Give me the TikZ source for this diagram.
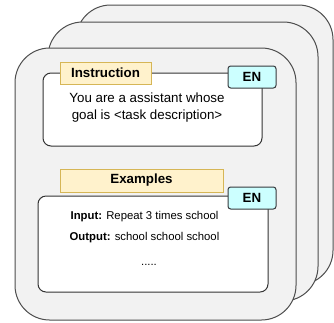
\documentclass[tikz,border=0pt]{standalone}
\usepackage{fontspec}
\setmainfont{Liberation Sans}
\usetikzlibrary{positioning}

\definecolor{cardfill}{HTML}{F2F2F2}
\definecolor{cardline}{HTML}{4D4D4D}
\definecolor{tagfill}{HTML}{CCFFFF}
\definecolor{tagline}{HTML}{36393D}
\definecolor{labelfill}{HTML}{FFF2CC}
\definecolor{labelline}{HTML}{D6B656}

\begin{document}
\begin{tikzpicture}
[x=0.75pt, y=-0.75pt, line width=0.75pt,
card/.style={rectangle, draw=cardline, fill=cardfill, rounded corners=26pt, inner sep=0pt},
textbox/.style={rectangle, draw=black!80, fill=white, rounded corners=6pt, inner sep=0pt},
tag/.style={rectangle, draw=tagline, fill=tagfill, rounded corners=2pt, inner sep=0pt,
  minimum width=36pt, minimum height=16.5pt, font=\fontsize{10}{12}\selectfont\bfseries},
boxlabel/.style={rectangle, draw=labelline, fill=labelfill, inner sep=0pt,
  minimum height=16.5pt, font=\fontsize{10}{12}\selectfont\bfseries},
body/.style={inner sep=0pt, align=center, font=\fontsize{10}{12.75}\selectfont},
example/.style={inner sep=0pt, font=\fontsize{8.5}{10}\selectfont}]

\useasboundingbox (0,0) rectangle (334,322);

% stacked cards
\node[card, minimum width=192.75pt, minimum height=210pt] (card3) at (204.5,145) {};
\node[card, minimum width=202.5pt, minimum height=209.25pt] (card2) at (183,161.5) {};
\node[card, minimum width=210.75pt, minimum height=204pt] (card1) at (155.5,184) {};

% instruction
\node[textbox, minimum width=164.25pt, minimum height=54.75pt] (instr) at (152.5,109.5) {};
\node[boxlabel, minimum width=68.25pt] (instrlabel) at (105.5,73) {Instruction};
\node[tag] (instrtag) at (252,77) {EN};
\node[body] (instrtext) at (147,107.5) {You are a assistant whose\\goal is <task description>};

% examples
\node[textbox, minimum width=172.5pt, minimum height=72pt] (examples) at (153,244) {};
\node[boxlabel, minimum width=122.25pt, minimum height=17.25pt] (exlabel) at (141.5,180.5) {Examples};
\node[tag] (extag) at (252,198) {EN};
\node[example] (input) at (144.5,217) {\textbf{Input:} Repeat 3 times school};
\node[example] (output) at (144.5,238) {\textbf{Output:} school school school};
\node[example] (more) at (149,265) {.....};

\end{tikzpicture}
\end{document}
